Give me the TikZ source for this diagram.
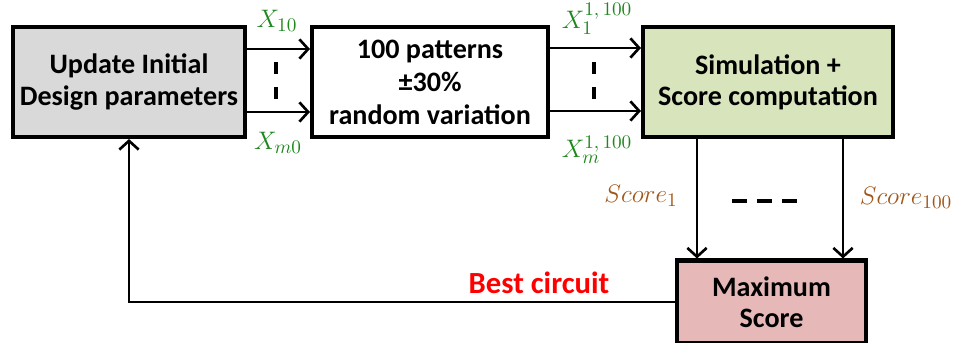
\documentclass[tikz,border=0pt]{standalone}
\usepackage{fontspec}
\setmainfont{Carlito}
\usetikzlibrary{arrows.meta,positioning,calc}

\definecolor{boxgray}{RGB}{217,217,217}
\definecolor{boxgreen}{RGB}{216,228,188}
\definecolor{boxred}{RGB}{230,185,184}
\definecolor{labgreen}{RGB}{30,135,30}
\definecolor{labbrown}{RGB}{160,85,25}

\tikzset{
  blockbox/.style={draw, line width=2.3pt, minimum height=110*0.02cm, align=center,
    font=\fontsize{16}{17.8}\selectfont\bfseries, inner sep=0pt},
  arr/.style={line width=1.5pt, -{Straight Barb[length=5pt,width=11pt,line width=1.5pt]}},
  dots/.style={line width=2pt},
  xlab/.style={text=labgreen, font=\fontsize{15}{17}\selectfont},
  slab/.style={text=labbrown, font=\fontsize{15.5}{17}\selectfont}
}

\begin{document}
\begin{tikzpicture}[x=0.02cm, y=-0.02cm]
\useasboundingbox (0,0) rectangle (963,342);

\node[blockbox, fill=boxgray, minimum width=232*0.02cm] (upd) at (129,82) {Update Initial\\Design parameters};
\node[blockbox, fill=white, minimum width=236*0.02cm, font=\fontsize{16}{18.8}\selectfont\bfseries] (pat) at (430,82) {100 patterns\\±30\%\\random variation};
\node[blockbox, fill=boxgreen, minimum width=250*0.02cm] (sim) at (768,82) {Simulation +\\Score computation};
\node[blockbox, fill=boxred, minimum width=189*0.02cm, minimum height=83*0.02cm] (maxs) at (771.5,302) {Maximum\\Score};

% inputs to the pattern generator
\draw[arr] ($(upd.east)+(0,-33)$) -- ($(pat.west)+(0,-33)$);
\draw[arr] ($(upd.east)+(0,30)$) -- ($(pat.west)+(0,30)$);
\draw[dots, dash pattern=on 7pt off 7pt] (276,62) -- (276,100);
\node[xlab] (x10) at (277,21) {$X_{10}$};
\node[xlab] (xm0) at (278,143) {$X_{m0}$};

% patterns to simulation
\draw[arr] ($(pat.east)+(0,-34)$) -- ($(sim.west)+(0,-34)$);
\draw[arr] ($(pat.east)+(0,29)$) -- ($(sim.west)+(0,29)$);
\draw[dots, dash pattern=on 7pt off 7pt] (594,62) -- (594,100);
\node[xlab] (x1) at (597,19) {$X_1^{1,\,100}$};
\node[xlab] (xm) at (597,150) {$X_m^{1,\,100}$};

% scores
\coordinate (s1) at ($(sim.south)+(-71,0)$);
\coordinate (s100) at ($(sim.south)+(75,0)$);
\draw[arr] (s1) -- (s1 |- maxs.north);
\draw[arr] (s100) -- (s100 |- maxs.north);
\draw[dots, dash pattern=on 8.5pt off 5.7pt] (732,201) -- (800,201);
\node[slab] (sc1) at (641,196) {$Score_1$};
\node[slab] (sc100) at (906,198) {$Score_{100}$};

% feedback
\draw[arr] (maxs.west) -| (upd.south);
\node[text=red, font=\fontsize{17.5}{20}\selectfont\bfseries] (best) at (539,283) {Best circuit};

\end{tikzpicture}
\end{document}
